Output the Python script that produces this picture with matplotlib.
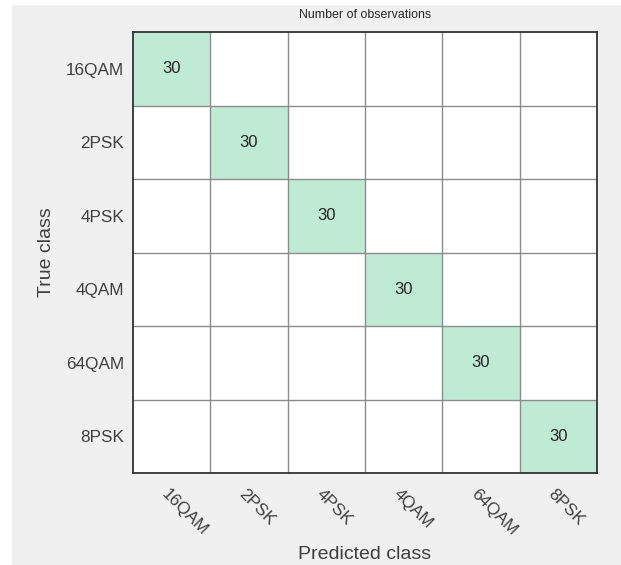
import numpy as np
import matplotlib.pyplot as plt
import matplotlib.transforms as mtransforms
from matplotlib.colors import LinearSegmentedColormap
from matplotlib.patches import Rectangle

plt.rcParams["font.family"] = ["Liberation Sans", "DejaVu Sans"]

# class names (rows = true, columns = predicted)
classes = ["16QAM", "2PSK", "4PSK", "4QAM", "64QAM", "8PSK"]

# number of observations
counts = [
    [30, 0, 0, 0, 0, 0],
    [0, 30, 0, 0, 0, 0],
    [0, 0, 30, 0, 0, 0],
    [0, 0, 0, 30, 0, 0],
    [0, 0, 0, 0, 30, 0],
    [0, 0, 0, 0, 0, 30],
]

title = "Number of observations"
xlabel = "Predicted class"
ylabel = "True class"

fig = plt.figure(figsize=(6.21, 5.65), dpi=100, facecolor="w")

# grey panel behind the chart
fig.patches.append(Rectangle((12 / 621, 0), 609 / 621, 560 / 565,
                             transform=fig.transFigure, facecolor="#f0f0f0",
                             edgecolor="none", zorder=-10))

ax = fig.add_axes([133 / 621, 1 - 473 / 565, 464 / 621, 441 / 565])

cm = np.array(counts)
n = len(classes)
cmap = LinearSegmentedColormap.from_list("grn", ["#ffffff", "#bfead3"])
ax.pcolormesh(np.arange(n + 1), np.arange(n + 1), cm, cmap=cmap,
              vmin=0, vmax=cm.max())

for i in range(n):
    for j in range(n):
        if cm[i, j] > 0:
            ax.text(j + 0.5, i + 0.5, str(cm[i, j]), ha="center", va="center",
                    fontsize=12, color="#262626")

for k in range(1, n):
    ax.axhline(k, color="#8c8c8c", lw=1.0)
    ax.axvline(k, color="#8c8c8c", lw=1.0)

ax.set_xlim(0, n)
ax.set_ylim(n, 0)

for s in ax.spines.values():
    s.set_color("#333333")
    s.set_linewidth(1.3)

ax.set_xticks(np.arange(n) + 0.5)
ax.set_yticks(np.arange(n) + 0.5)
ax.set_yticklabels(classes, fontsize=12.3, color="#404040")
ax.set_xticklabels(classes, fontsize=12.3, color="#404040", rotation=-45,
                   ha="left", va="center", rotation_mode="anchor")
ax.tick_params(axis="both", length=0)
ax.tick_params(axis="x", pad=13.5)
ax.tick_params(axis="y", pad=6.5)

# nudge rotated labels a little to the left
shift = mtransforms.ScaledTranslation(-8 / 100, 0, fig.dpi_scale_trans)
for lab in ax.get_xticklabels():
    lab.set_transform(lab.get_transform() + shift)

ax.set_title(title, fontsize=8.9, color="#262626", pad=10)
ax.set_xlabel(xlabel, fontsize=14, color="#404040", labelpad=6)
ax.set_ylabel(ylabel, fontsize=14, color="#404040", labelpad=8)

plt.savefig("out.png", dpi=100)
